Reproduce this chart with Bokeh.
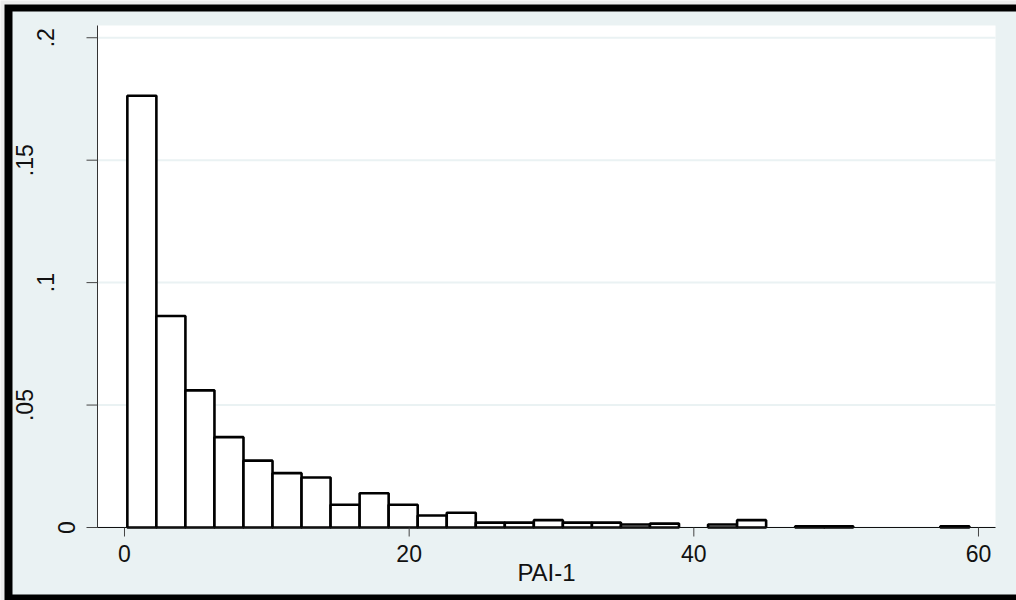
import math

from bokeh.core.properties import value
from bokeh.embed import file_html
from bokeh.models import Range1d
from bokeh.plotting import figure
from bokeh.resources import INLINE

# PAI-1 histogram on the density scale: 29 equal-width bins
bin_start = 0.2
bin_width = 2.04
density = [0.1763, 0.0864, 0.0560, 0.0369, 0.0273, 0.0222, 0.0204, 0.0093,
           0.0140, 0.0093, 0.0049, 0.0060, 0.0020, 0.0020, 0.0030, 0.0020,
           0.0020, 0.0012, 0.0016, 0.0, 0.0012, 0.0030, 0.0, 0.0005,
           0.0005, 0.0, 0.0, 0.0, 0.0005]

x_ticks = [0, 20, 40, 60]
x_tick_labels = ["0", "20", "40", "60"]
y_ticks = [0, 0.05, 0.1, 0.15, 0.2]
y_tick_labels = ["0", ".05", ".1", ".15", ".2"]
x_title = "PAI-1"

FONT = "Liberation Sans"
BG = "#eaf2f3"
EDGE = "#ececec"
INK = "#111111"

# page geometry (px) and the data window of the plot region
W, H = 1016, 600
PLOT_L, PLOT_R, PLOT_T, PLOT_B = 97, 995, 25, 527
X_START, X_END = -1.897, 61.196
Y_START, Y_END = 0.0, 0.205

SX = (PLOT_R - PLOT_L) / (X_END - X_START)   # px per x unit
SY = (PLOT_B - PLOT_T) / (Y_END - Y_START)   # px per y unit


def dx(px):
    """horizontal pixel distance -> x units"""
    return px / SX


def dy(px):
    """vertical pixel distance -> y units"""
    return px / SY


def page_x(px):
    return X_START + dx(px - PLOT_L)


def page_y(py):
    return Y_START + dy(PLOT_B - py)


p = figure(width=W, height=H, output_backend="svg", toolbar_location=None,
           x_range=Range1d(page_x(0), page_x(W)),
           y_range=Range1d(page_y(H), page_y(0)),
           x_axis_type=None, y_axis_type=None,
           min_border_left=0, min_border_right=0, min_border_top=0,
           min_border_bottom=0)
p.background_fill_color = EDGE
p.border_fill_color = EDGE
p.outline_line_color = None
p.xgrid.grid_line_color = None
p.ygrid.grid_line_color = None

# frame: black rule on three sides, tinted graph region inside it
p.quad(left=[page_x(4)], right=[page_x(W + 10)], bottom=[page_y(H + 10)],
       top=[page_y(4)], fill_color="black", line_color=None)
p.quad(left=[page_x(12)], right=[page_x(W + 10)], bottom=[page_y(594)],
       top=[page_y(11)], fill_color=BG, line_color=None)

# white plot region and horizontal grid lines
p.quad(left=[X_START], right=[X_END], bottom=[Y_START], top=[Y_END],
       fill_color="white", line_color=None)
p.segment(x0=[X_START] * len(y_ticks), x1=[X_END] * len(y_ticks),
          y0=y_ticks, y1=y_ticks, line_color=BG, line_width=2)

# histogram bars (bins with no observations are not drawn)
left, right, top = [], [], []
for i, d in enumerate(density):
    if d > 0:
        left.append(bin_start + i * bin_width)
        right.append(bin_start + (i + 1) * bin_width)
        top.append(d)
p.quad(left=left, right=right, bottom=0, top=top,
       fill_color="white", line_color="black", line_width=2.6)

# y axis: line, outward ticks, labels rotated to read upwards
p.segment(x0=[X_START], x1=[X_START], y0=[Y_START], y1=[Y_END],
          line_color="#333333", line_width=1)
p.segment(x0=[X_START - dx(11)] * len(y_ticks), x1=[X_START] * len(y_ticks),
          y0=y_ticks, y1=y_ticks, line_color="#444444", line_width=1)
p.text(x=[X_START - dx(9.5 + 21.25 * len(t)) for t in y_tick_labels], y=y_ticks,
       text=y_tick_labels, angle=math.pi / 2, text_align="center",
       text_baseline="middle", text_font=value(FONT), text_font_size="23px",
       text_color=INK)

# x axis: line, outward ticks, labels and title
p.segment(x0=[X_START], x1=[X_END], y0=[Y_START], y1=[Y_START],
          line_color=INK, line_width=1.2)
p.segment(x0=x_ticks, x1=x_ticks, y0=[Y_START] * len(x_ticks),
          y1=[Y_START - dy(9)] * len(x_ticks), line_color="#444444", line_width=1)
p.text(x=x_ticks, y=[Y_START - dy(26)] * len(x_ticks), text=x_tick_labels,
       text_align="center", text_baseline="middle", text_font=value(FONT),
       text_font_size="23px", text_color=INK)
p.text(x=[(X_START + X_END) / 2], y=[Y_START - dy(45)], text=[x_title],
       text_align="center", text_baseline="middle", text_font=value(FONT),
       text_font_size="24px", text_color=INK)

open("out.html", "w").write(file_html(p, INLINE))
